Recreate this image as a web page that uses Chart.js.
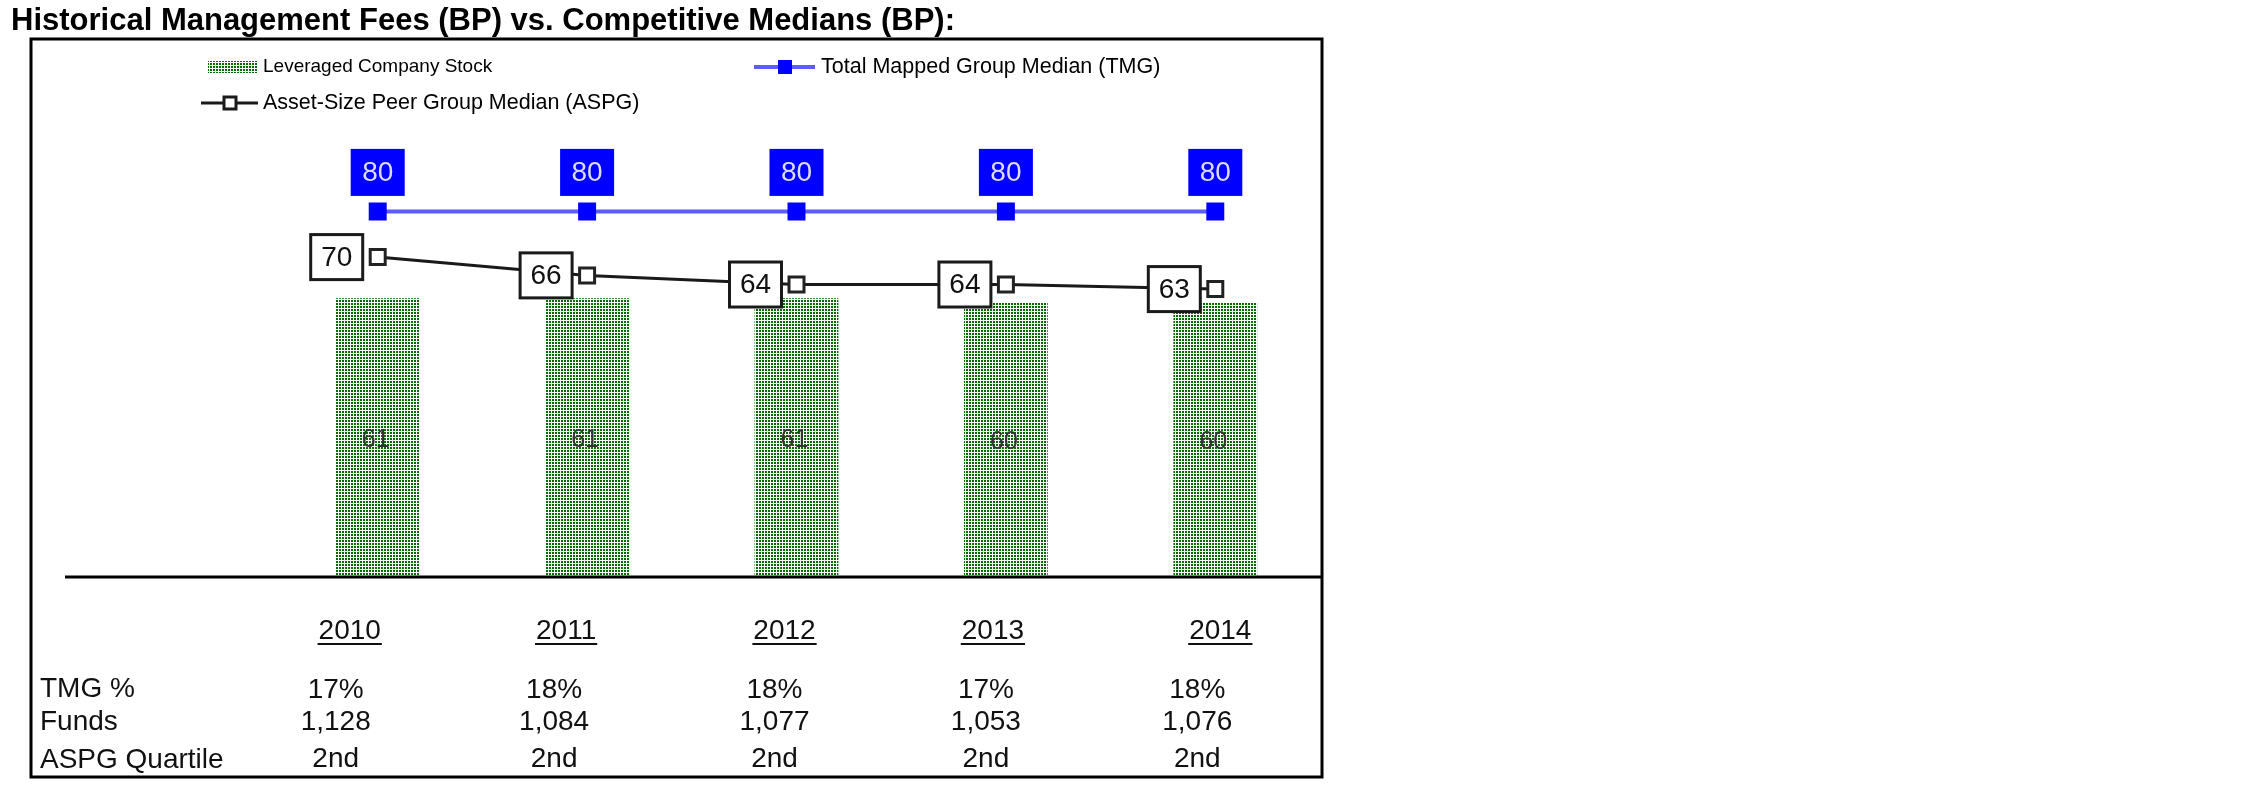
<!DOCTYPE html>
<html lang="en">
<head>
<meta charset="UTF-8">
<title>Historical Management Fees vs. Competitive Medians</title>
<script src="https://cdn.jsdelivr.net/npm/chart.js"></script>
<style>
  html, body { margin: 0; padding: 0; background: #fff; }
</style>
</head>
<body>
<canvas id="feeChart" width="2251" height="798"></canvas>
<script>
// data
const years = ['2010', '2011', '2012', '2013', '2014'];
const companyStock = [61, 61, 61, 60, 60];
const tmgMedian = [80, 80, 80, 80, 80];
const aspgMedian = [70, 66, 64, 64, 63];
const tmgPct = ['17%', '18%', '18%', '17%', '18%'];
const funds = ['1,128', '1,084', '1,077', '1,053', '1,076'];
const aspgQuartile = ['2nd', '2nd', '2nd', '2nd', '2nd'];

const FONT = "'Liberation Sans', Arial, sans-serif";
const ctx = document.getElementById('feeChart').getContext('2d');

// dotted green fill like the original hatch
function dotPattern() {
    const c = document.createElement('canvas');
    c.width = 3; c.height = 3;
    const g = c.getContext('2d');
    g.fillStyle = '#ffffff';
    g.fillRect(0, 0, 3, 3);
    g.fillStyle = '#006a00';
    g.fillRect(0, 0, 2, 2);
    return ctx.createPattern(c, 'repeat');
}
const greenDots = dotPattern();

// table columns sit a little left of the bar centres
const yearShift = [-28, -21, -12, -13, 5];
const valueShift = [-42, -33, -22, -20, -18];

function boxLabel(c, text, cx, cy, w, h, fill, stroke, color) {
    c.fillStyle = fill;
    c.fillRect(cx - w / 2, cy - h / 2, w, h);
    if (stroke) {
        c.lineWidth = 3;
        c.strokeStyle = stroke;
        c.strokeRect(cx - w / 2, cy - h / 2, w, h);
    }
    c.fillStyle = color;
    c.font = '28px ' + FONT;
    c.textAlign = 'center';
    c.textBaseline = 'middle';
    c.fillText(text, cx, cy + 1);
}

const decor = {
    id: 'decor',
    beforeDraw(chart) {
        const c = chart.ctx;
        c.save();
        c.fillStyle = '#fff';
        c.fillRect(0, 0, chart.width, chart.height);
        c.restore();
    },
    afterDraw(chart) {
        const c = chart.ctx;
        c.save();

        // title
        c.fillStyle = '#000';
        c.font = 'bold 31px ' + FONT;
        c.textAlign = 'left';
        c.textBaseline = 'alphabetic';
        c.fillText('Historical Management Fees (BP) vs. Competitive Medians (BP):', 11, 30);

        // frame and base line
        c.strokeStyle = '#000';
        c.lineWidth = 3;
        c.strokeRect(31, 39, 1291, 738);
        c.beginPath();
        c.moveTo(65, chart.chartArea.bottom);
        c.lineTo(1322, chart.chartArea.bottom);
        c.stroke();

        // legend
        c.font = '19px ' + FONT;
        c.textBaseline = 'middle';
        c.fillStyle = greenDots;
        c.fillRect(208, 61, 50, 12);
        c.fillStyle = '#000';
        c.fillText(chart.data.datasets[2].label, 263, 67);

        c.strokeStyle = '#5c5cff';
        c.lineWidth = 4;
        c.beginPath(); c.moveTo(754, 67); c.lineTo(815, 67); c.stroke();
        c.fillStyle = '#0000ff';
        c.fillRect(778, 60, 14, 14);
        c.fillStyle = '#000';
        c.font = '21.5px ' + FONT;
        c.fillText(chart.data.datasets[0].label, 821, 67);

        c.strokeStyle = '#1a1a1a';
        c.lineWidth = 3;
        c.beginPath(); c.moveTo(201, 103); c.lineTo(258, 103); c.stroke();
        c.fillStyle = '#fff';
        c.fillRect(224, 97, 12, 12);
        c.strokeRect(224, 97, 12, 12);
        c.fillStyle = '#000';
        c.fillText(chart.data.datasets[1].label, 263, 103);

        // value labels
        const tmgMeta = chart.getDatasetMeta(0);
        const aspgMeta = chart.getDatasetMeta(1);
        const barMeta = chart.getDatasetMeta(2);
        tmgMeta.data.forEach((p, i) => {
            boxLabel(c, String(tmgMedian[i]), p.x, p.y - 39, 54, 47, '#0000ff', null, '#dcdcff');
        });
        aspgMeta.data.forEach((p, i) => {
            boxLabel(c, String(aspgMedian[i]), p.x - 41, p.y, 52, 45, '#fff', '#1a1a1a', '#111');
        });
        c.font = '25px ' + FONT;
        c.fillStyle = '#333';
        c.textAlign = 'center';
        barMeta.data.forEach((b, i) => {
            c.fillText(String(companyStock[i]), b.x - 2, (b.y + b.base) / 2 + 2);
        });

        // table under the chart
        c.fillStyle = '#111';
        c.strokeStyle = '#111';
        c.lineWidth = 2;
        c.textAlign = 'left';
        c.font = '28px ' + FONT;
        c.fillText('TMG %', 40, 689);
        c.fillText('Funds', 40, 722);
        c.fillText('ASPG Quartile', 40, 760);
        c.textAlign = 'center';
        barMeta.data.forEach((b, i) => {
            const yx = b.x + yearShift[i];
            c.fillText(years[i], yx, 631);
            const w = c.measureText(years[i]).width;
            c.beginPath();
            c.moveTo(yx - w / 2 - 1, 644);
            c.lineTo(yx + w / 2 + 1, 644);
            c.stroke();
            const vx = b.x + valueShift[i];
            c.fillText(tmgPct[i], vx, 690);
            c.fillText(funds[i], vx, 722);
            c.fillText(aspgQuartile[i], vx, 759);
        });

        c.restore();
    }
};

new Chart(ctx, {
    type: 'bar',
    data: {
        labels: years,
        datasets: [{
            type: 'line',
            label: 'Total Mapped Group Median (TMG)',
            data: tmgMedian,
            borderColor: '#5c5cff',
            borderWidth: 4,
            pointStyle: 'rect',
            pointRadius: 12.7,
            pointBackgroundColor: '#0000ff',
            pointBorderWidth: 0,
            order: 0
        }, {
            type: 'line',
            label: 'Asset-Size Peer Group Median (ASPG)',
            data: aspgMedian,
            borderColor: '#1a1a1a',
            borderWidth: 3,
            pointStyle: 'rect',
            pointRadius: 10.6,
            pointBackgroundColor: '#ffffff',
            pointBorderColor: '#222',
            pointBorderWidth: 3,
            order: 1
        }, {
            label: 'Leveraged Company Stock',
            data: companyStock,
            backgroundColor: greenDots,
            borderWidth: 0,
            barPercentage: 0.4,
            categoryPercentage: 1,
            order: 2
        }]
    },
    options: {
        responsive: false,
        animation: false,
        layout: { padding: { left: 273, right: 931, top: 120, bottom: 221 } },
        scales: {
            x: { display: false },
            y: { display: false, min: 0, max: 100 }
        },
        plugins: {
            legend: { display: false },
            tooltip: { enabled: false }
        }
    },
    plugins: [decor]
});
</script>
</body>
</html>
